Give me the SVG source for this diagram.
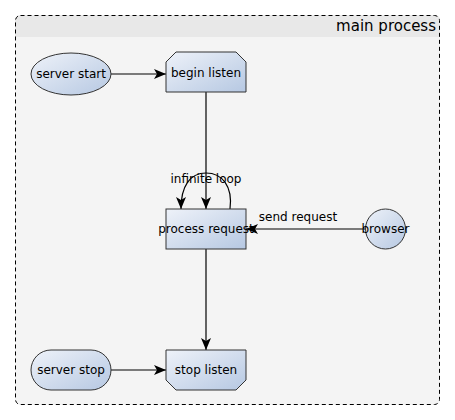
<svg xmlns="http://www.w3.org/2000/svg" width="455" height="420" viewBox="0 0 455 420">
<style>
text{font-family:"DejaVu Sans",sans-serif;font-size:12px;fill:#000}
text.t{font-size:15px}
.n{stroke:#333;stroke-width:1;fill:url(#g)}
.c{stroke:#000;stroke-width:1.2;fill:none}
</style>
<defs>
<linearGradient id="g" x1="0" y1="0" x2="1" y2="1">
<stop offset="0" stop-color="#eef2f9"/>
<stop offset="1" stop-color="#b6c8e2"/>
</linearGradient>
<marker id="a" viewBox="0 0 12 10" refX="12" refY="5" markerWidth="12" markerHeight="10" markerUnits="userSpaceOnUse" orient="auto">
<path d="M0,0 L12,5 L0,10 L3,5 Z" fill="#000"/>
</marker>
<clipPath id="cp"><rect x="15" y="15" width="425" height="390" rx="5"/></clipPath>
</defs>
<g id="container">
<rect x="15" y="15" width="425" height="390" rx="5" fill="#f4f4f4"/>
<rect x="15" y="15" width="425" height="22" fill="#e8e8e8" clip-path="url(#cp)"/>
<rect x="15.5" y="15.5" width="424" height="389" rx="5" fill="none" stroke="#000" stroke-dasharray="4,3"/>
<text class="t" x="436" y="31" text-anchor="end">main process</text>
</g>
<g id="connectors">
<line class="c" x1="111" y1="74" x2="166" y2="74" marker-end="url(#a)"/>
<line class="c" x1="206" y1="92" x2="206" y2="209" marker-end="url(#a)"/>
<path class="c" d="M230,209 C233,186 222,173 206,173 C190,173 181,186 181,209" marker-end="url(#a)"/>
<line class="c" x1="365" y1="229" x2="246" y2="229" marker-end="url(#a)"/>
<line class="c" x1="206" y1="249" x2="206" y2="350" marker-end="url(#a)"/>
<line class="c" x1="111" y1="370" x2="166" y2="370" marker-end="url(#a)"/>
<text x="206" y="183" text-anchor="middle">infinite loop</text>
<text x="298" y="221" text-anchor="middle">send request</text>
</g>
<g id="server-start">
<ellipse class="n" cx="71" cy="74" rx="40" ry="21"/>
<text x="71" y="78" text-anchor="middle">server start</text>
</g>
<g id="begin-listen">
<path class="n" d="M176,52 L236,52 L246,62 L246,92 L166,92 L166,62 Z"/>
<text x="206" y="77" text-anchor="middle">begin listen</text>
</g>
<g id="process-request">
<rect class="n" x="166" y="209" width="80" height="40"/>
<text x="206" y="233" text-anchor="middle">process request</text>
</g>
<g id="browser">
<circle class="n" cx="385.5" cy="229" r="20"/>
<text x="385.5" y="233" text-anchor="middle">browser</text>
</g>
<g id="server-stop">
<rect class="n" x="31" y="350" width="80" height="40" rx="20"/>
<text x="71" y="374" text-anchor="middle">server stop</text>
</g>
<g id="stop-listen">
<path class="n" d="M166,350 L246,350 L246,380 L236,390 L176,390 L166,380 Z"/>
<text x="206" y="374" text-anchor="middle">stop listen</text>
</g>
</svg>
